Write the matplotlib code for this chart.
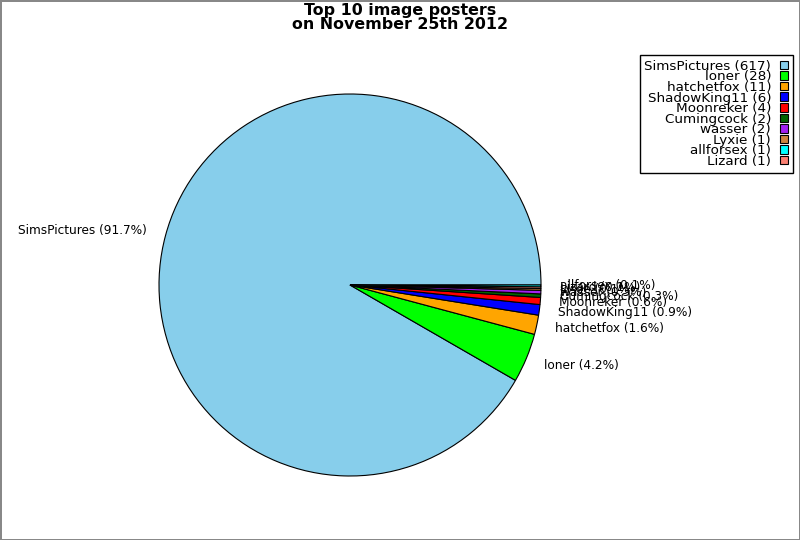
import matplotlib
matplotlib.use("Agg")
import matplotlib.pyplot as plt

# data (legend order)
posters = ["SimsPictures", "loner", "hatchetfox", "ShadowKing11", "Moonreker",
           "Cumingcock", "wasser", "Lyxie", "allforsex", "Lizard"]
counts = [617, 28, 11, 6, 4, 2, 2, 1, 1, 1]
colors = ["#87ceeb", "#00ff00", "#ffa500", "#0000ff", "#ff0000",
          "#006400", "#a020f0", "#cd853f", "#00ffff", "#fa8072"]
# order the wedges are drawn in (counter-clockwise from east)
pie_order = [0, 1, 2, 3, 4, 5, 6, 7, 9, 8]

total = sum(counts)
pie_counts = [counts[i] for i in pie_order]
pie_colors = [colors[i] for i in pie_order]
pie_labels = ["%s (%.1f%%)" % (posters[i], 100.0 * counts[i] / total) for i in pie_order]
legend_labels = ["%s (%d)" % (p, c) for p, c in zip(posters, counts)]

fig = plt.figure(figsize=(8, 5.4), dpi=100)
fig.patch.set_edgecolor("#888888")
fig.patch.set_linewidth(2)

ax = fig.add_axes([0.0, 0.0, 1.0, 1.0])
wedges, texts = ax.pie(pie_counts, labels=pie_labels, colors=pie_colors, startangle=0,
                       labeldistance=1.1,
                       wedgeprops=dict(edgecolor="black", linewidth=0.8),
                       textprops=dict(fontsize=8.7))
ax.set_aspect("equal")
# pie centre ~ (350, 285) px, radius ~191 px
ax.set_xlim(-350 / 191.0, -350 / 191.0 + 800 / 191.0)
ax.set_ylim(285 / 191.0 - 540 / 191.0, 285 / 191.0)

fig.text(0.5, 0.994, "Top 10 image posters\non November 25th 2012", ha="center", va="top",
         fontsize=11.4, fontweight="bold", linespacing=0.9)

handles = [wedges[pie_order.index(i)] for i in range(len(posters))]
leg = fig.legend(handles, legend_labels, loc="upper right", bbox_to_anchor=(0.991, 0.898),
                 markerfirst=False, fontsize=9.7, handlelength=0.6, handleheight=0.6,
                 handletextpad=0.65, labelspacing=-0.18, borderpad=0.35, fancybox=False,
                 framealpha=1, edgecolor="black", borderaxespad=0)
for t in leg.get_texts():
    t.set_ha("right")
leg.get_frame().set_linewidth(1)

fig.savefig("out.png", dpi=100)
